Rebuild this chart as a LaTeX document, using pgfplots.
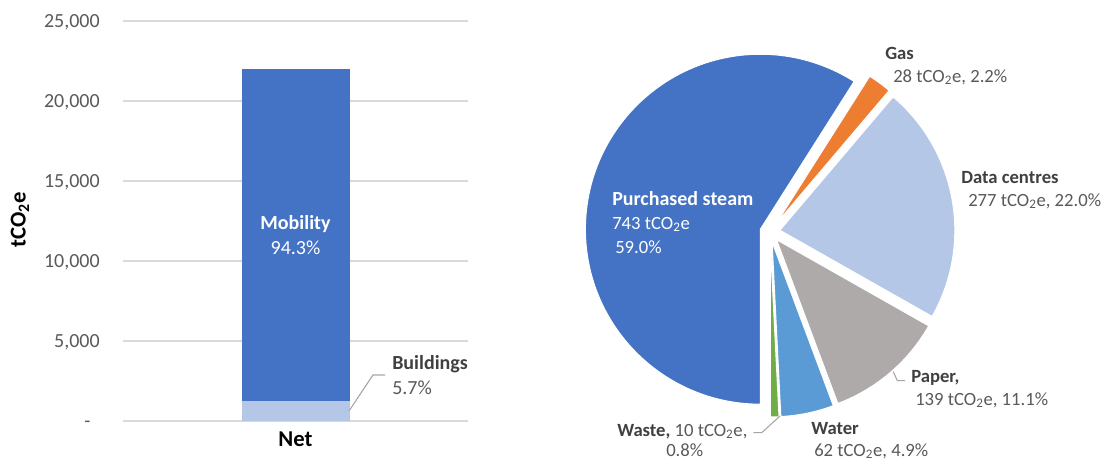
\documentclass[border=0pt]{standalone}
\usepackage{pgfplots}
\pgfplotsset{compat=1.18}
\usepackage{pgfplotstable}
\usepackage{fontspec}
\setmainfont{Carlito}
\usetikzlibrary{calc}
\definecolor{cBlue}{HTML}{4472C4}
\definecolor{cLight}{HTML}{B4C7E7}
\definecolor{cOrange}{HTML}{ED7D31}
\definecolor{cGrey}{HTML}{AEAAAA}
\definecolor{cWater}{HTML}{5B9BD5}
\definecolor{cGreen}{HTML}{70AD47}
\definecolor{cGrid}{HTML}{D9D9D9}
\definecolor{cTick}{HTML}{595959}
\definecolor{cLab}{HTML}{404040}
\definecolor{cLead}{HTML}{A6A6A6}

% pie data (percent of 1,259 tCO2e)
\pgfplotstableread{
name pct
Steam 59.0
Gas 2.2
Data 22.0
Paper 11.1
Water 4.9
Waste 0.8
}\piedata

\pgfmathsetmacro\aZero{270}
\pgfplotstablegetelem{0}{pct}\of\piedata \pgfmathsetmacro\aOne{\aZero-3.6*\pgfplotsretval}
\pgfplotstablegetelem{1}{pct}\of\piedata \pgfmathsetmacro\aTwo{\aOne-3.6*\pgfplotsretval}
\pgfplotstablegetelem{2}{pct}\of\piedata \pgfmathsetmacro\aThree{\aTwo-3.6*\pgfplotsretval}
\pgfplotstablegetelem{3}{pct}\of\piedata \pgfmathsetmacro\aFour{\aThree-3.6*\pgfplotsretval}
\pgfplotstablegetelem{4}{pct}\of\piedata \pgfmathsetmacro\aFive{\aFour-3.6*\pgfplotsretval}
\pgfplotstablegetelem{5}{pct}\of\piedata \pgfmathsetmacro\aSix{\aFive-3.6*\pgfplotsretval}
\pgfmathsetmacro\mOne{(\aZero+\aOne)/2}
\pgfmathsetmacro\mTwo{(\aOne+\aTwo)/2}
\pgfmathsetmacro\mThree{(\aTwo+\aThree)/2}
\pgfmathsetmacro\mFour{(\aThree+\aFour)/2}
\pgfmathsetmacro\mFive{(\aFour+\aFive)/2}
\pgfmathsetmacro\mSix{(\aFive+\aSix)/2}

% start, end, mid, colour
\newcommand\pieWedge[4]{%
  \fill[#4, draw=white, line width=0.8pt]
    ($(axis cs:770,-232)+(#3:7.5pt)$) -- ++(#1:131.25pt)
    arc[start angle=#1, end angle=#2, radius=131.25pt] -- cycle;}

\newcommand\barfont{\fontsize{15}{18}\selectfont}
\newcommand\piefont{\fontsize{14}{16.8}\selectfont}

\begin{document}
\begin{tikzpicture}
\path[use as bounding box] (0,0) rectangle (828pt,-345.75pt);

% ---------------- bar chart ----------------
\begin{axis}[
  at={(92.25pt,-315.75pt)}, anchor=south west,
  scale only axis, width=258.75pt, height=300pt,
  xmin=-1, xmax=1, ymin=0, ymax=25000,
  ybar stacked, bar width=81pt,
  axis line style={draw=none},
  major tick length=0pt,
  scaled y ticks=false,
  ymajorgrids, grid style={cGrid, line width=1.1pt},
  ytick={0,5000,10000,15000,20000,25000},
  yticklabels={{-\hspace*{7pt}},{5,000},{10,000},{15,000},{20,000},{25,000}},
  yticklabel style={font=\barfont, text=cTick, inner sep=0pt, anchor=base east, xshift=-17.25pt, yshift=-4.9pt},
  xtick={0}, xticklabels={Net},
  xticklabel style={font=\fontsize{17}{20}\selectfont\bfseries, text=black, inner sep=0pt, anchor=base, yshift=-19pt},
  clip=false,
  after end axis/.code={
    \node[anchor=base, inner sep=0pt, text=white, font=\barfont\bfseries] at (axis cs:0,11969) {Mobility};
    \node[anchor=base, inner sep=0pt, text=white, font=\barfont] at (axis cs:0,10406) {94.3\%};
    \draw[cLead, line width=0.8pt] (axis cs:0.310,625) -- (axis cs:0.449,2875) -- (axis cs:0.519,2875);
    \node[anchor=base west, inner sep=0pt, text=cLab, font=\barfont\bfseries] at (axis cs:0.5594,3219) {Buildings};
    \node[anchor=base west, inner sep=0pt, text=cTick, font=\barfont] at (axis cs:0.5594,1656) {5.7\%};
  },
]
\addplot[fill=cLight, draw=none] coordinates {(0,1254)};
\addplot[fill=cBlue, draw=none] coordinates {(0,20746)};
\end{axis}
\node[rotate=90, inner sep=0pt, font=\fontsize{17}{20}\selectfont\bfseries, text=black] at (15pt,-165pt) {tCO\textsubscript{2}e};

% ---------------- pie chart ----------------
\begin{axis}[
  at={(420pt,-345.75pt)}, anchor=south west,
  scale only axis, width=408pt, height=345.75pt,
  xmin=560, xmax=1104, ymin=-461, ymax=0,
  hide axis, clip=false,
]
\pieWedge{\aZero}{\aOne}{\mOne}{cBlue}
\pieWedge{\aOne}{\aTwo}{\mTwo}{cOrange}
\pieWedge{\aTwo}{\aThree}{\mThree}{cLight}
\pieWedge{\aThree}{\aFour}{\mFour}{cGrey}
\pieWedge{\aFour}{\aFive}{\mFive}{cWater}
\pieWedge{\aFive}{\aSix}{\mSix}{cGreen}

\node[anchor=base west, inner sep=0pt, font=\piefont\bfseries, text=cLab] at (axis cs:885,-59) {Gas};
\node[anchor=base west, inner sep=0pt, font=\piefont, text=cTick] at (axis cs:893,-82) {28 tCO\textsubscript{2}e, 2.2\%};
\node[anchor=base west, inner sep=0pt, font=\piefont\bfseries, text=cLab] at (axis cs:961,-183) {Data centres};
\node[anchor=base west, inner sep=0pt, font=\piefont, text=cTick] at (axis cs:968,-206) {277 tCO\textsubscript{2}e, 22.0\%};
\node[anchor=base west, inner sep=0pt, font=\fontsize{15}{18}\selectfont\bfseries, text=white] at (axis cs:612,-205) {Purchased steam};
\node[anchor=base west, inner sep=0pt, font=\piefont, text=white] at (axis cs:612,-229) {743 tCO\textsubscript{2}e};
\node[anchor=base west, inner sep=0pt, font=\piefont, text=white] at (axis cs:615,-253) {59.0\%};
\draw[cLead, line width=0.8pt] (axis cs:893.3,-371.7) -- (axis cs:897.3,-380.7) -- (axis cs:905,-380.7);
\node[anchor=base west, inner sep=0pt, font=\piefont\bfseries, text=cLab] at (axis cs:911,-382) {Paper,};
\node[anchor=base west, inner sep=0pt, font=\piefont, text=cTick] at (axis cs:915,-405) {139 tCO\textsubscript{2}e, 11.1\%};
\node[anchor=base west, inner sep=0pt, font=\piefont\bfseries, text=cLab] at (axis cs:811,-434) {Water};
\node[anchor=base west, inner sep=0pt, font=\piefont, text=cTick] at (axis cs:814,-456) {62 tCO\textsubscript{2}e, 4.9\%};
\draw[cLead, line width=0.8pt] (axis cs:753.3,-432.7) -- (axis cs:761.7,-432.7) -- (axis cs:780,-416);
\node[anchor=base west, inner sep=0pt, font=\piefont, text=cTick] at (axis cs:617,-436) {\textcolor{cLab}{\bfseries Waste,} 10 tCO\textsubscript{2}e,};
\node[anchor=base west, inner sep=0pt, font=\piefont, text=cTick] at (axis cs:666,-456) {0.8\%};
\end{axis}
\end{tikzpicture}
\end{document}
